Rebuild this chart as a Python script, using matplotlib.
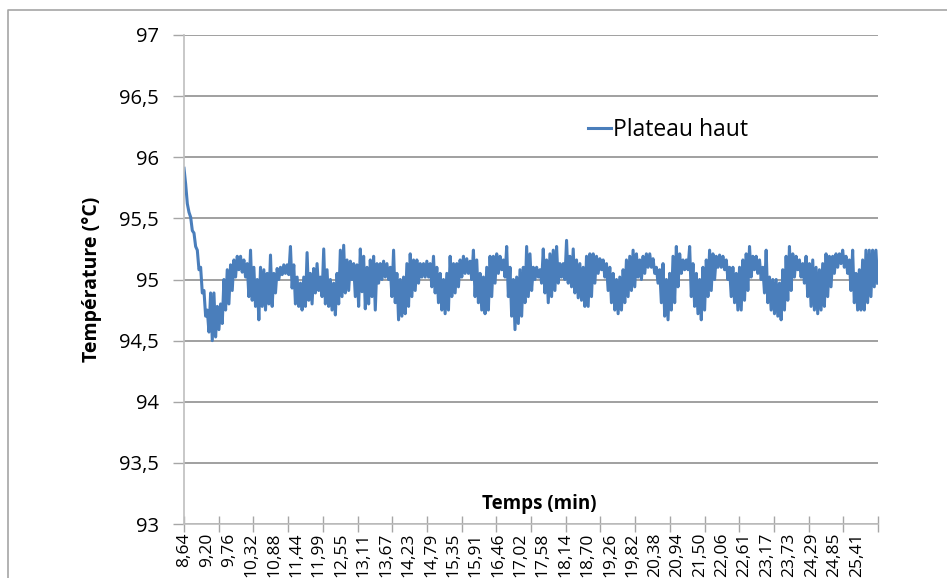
import matplotlib
matplotlib.use("Agg")
import matplotlib.pyplot as plt
from matplotlib.lines import Line2D
import numpy as np

plt.rcParams['font.family'] = ['Open Sans', 'DejaVu Sans']

# upper / lower reading of the probe over each sampling window (°C), 8,64 -> 25,9 min
temp_hi = [
    95.91, 95.62, 95.51, 95.38, 95.24, 95.10, 94.91, 94.75, 94.89, 94.89,
    94.78, 94.80, 95.00, 95.08, 95.12, 95.16, 95.19, 95.19, 95.16, 95.13,
    95.24, 95.10, 95.00, 95.10, 95.08, 95.05, 95.20, 95.05, 95.09, 95.10,
    95.12, 95.12, 95.27, 95.12, 95.02, 94.97, 95.02, 95.22, 95.05, 95.09,
    95.13, 95.02, 95.25, 95.08, 95.00, 94.97, 95.05, 95.24, 95.28, 95.16,
    95.15, 95.13, 95.12, 95.25, 95.19, 95.10, 95.16, 95.19, 95.13, 95.13,
    95.15, 95.13, 95.10, 95.24, 95.05, 95.00, 95.02, 95.13, 95.21, 95.16,
    95.16, 95.13, 95.13, 95.15, 95.13, 95.19, 95.10, 95.05, 95.00, 95.05,
    95.19, 95.13, 95.13, 95.16, 95.19, 95.17, 95.15, 95.24, 95.16, 95.05,
    95.02, 95.10, 95.19, 95.19, 95.21, 95.19, 95.16, 95.27, 95.10, 95.00,
    95.02, 95.08, 95.10, 95.27, 95.21, 95.10, 95.10, 95.08, 95.25, 95.16,
    95.21, 95.24, 95.27, 95.13, 95.13, 95.32, 95.19, 95.25, 95.16, 95.13,
    95.10, 95.19, 95.21, 95.21, 95.19, 95.17, 95.16, 95.13, 95.10, 95.05,
    95.00, 95.02, 95.08, 95.16, 95.19, 95.24, 95.21, 95.16, 95.19, 95.21,
    95.21, 95.17, 95.10, 95.08, 95.13, 95.00, 95.05, 95.19, 95.27, 95.21,
    95.16, 95.16, 95.27, 95.13, 95.05, 95.00, 95.10, 95.16, 95.24, 95.21,
    95.19, 95.20, 95.19, 95.16, 95.10, 95.10, 95.05, 95.10, 95.16, 95.21,
    95.27, 95.19, 95.19, 95.16, 95.10, 95.24, 95.02, 95.00, 95.00, 94.97,
    95.08, 95.19, 95.27, 95.21, 95.19, 95.16, 95.13, 95.19, 95.13, 95.16,
    95.10, 95.08, 95.13, 95.21, 95.19, 95.19, 95.21, 95.21, 95.24, 95.19,
    95.16, 95.24, 95.05, 95.08, 95.16, 95.24, 95.24, 95.24, 95.24,
]
temp_lo = [
    95.78, 95.55, 95.40, 95.27, 95.08, 94.89, 94.70, 94.57, 94.50, 94.53,
    94.59, 94.64, 94.75, 94.80, 94.91, 95.02, 95.08, 95.06, 95.02, 94.86,
    94.83, 94.78, 94.67, 94.78, 94.75, 94.80, 94.78, 94.89, 95.00, 95.04,
    95.05, 95.04, 94.93, 94.80, 94.78, 94.75, 94.78, 94.83, 94.80, 94.89,
    94.91, 94.86, 94.80, 94.78, 94.75, 94.71, 94.80, 94.86, 94.89, 94.91,
    95.00, 94.86, 94.78, 94.90, 94.76, 94.80, 94.86, 94.75, 94.97, 95.00,
    95.02, 95.00, 94.86, 94.81, 94.67, 94.70, 94.72, 94.78, 94.86, 94.91,
    94.97, 95.02, 95.02, 95.02, 94.94, 94.89, 94.81, 94.75, 94.72, 94.75,
    94.86, 94.89, 94.94, 95.02, 95.05, 95.05, 95.00, 94.86, 94.81, 94.75,
    94.72, 94.75, 94.86, 94.97, 95.05, 95.08, 95.02, 94.86, 94.70, 94.59,
    94.64, 94.70, 94.81, 94.86, 94.91, 95.00, 95.02, 94.97, 94.89, 94.81,
    94.86, 94.91, 94.97, 95.02, 95.00, 94.97, 94.94, 94.89, 94.85, 94.83,
    94.78, 94.78, 94.86, 94.97, 95.05, 95.08, 95.02, 94.91, 94.81, 94.75,
    94.72, 94.75, 94.81, 94.86, 94.91, 94.94, 95.02, 95.00, 95.05, 95.10,
    95.10, 95.05, 94.97, 94.81, 94.70, 94.67, 94.75, 94.81, 94.94, 95.05,
    95.08, 95.08, 94.86, 94.78, 94.72, 94.67, 94.75, 94.86, 94.91, 95.00,
    95.10, 95.10, 95.08, 95.00, 94.86, 94.81, 94.75, 94.75, 94.83, 94.91,
    95.02, 95.08, 95.05, 95.00, 94.89, 94.81, 94.75, 94.72, 94.70, 94.67,
    94.75, 94.83, 94.91, 95.02, 95.08, 95.02, 94.97, 94.86, 94.78, 94.75,
    94.72, 94.75, 94.78, 94.86, 94.94, 95.05, 95.10, 95.13, 95.10, 95.05,
    94.91, 94.81, 94.75, 94.75, 94.75, 94.81, 94.86, 94.94, 94.97,
]

t_start, t_end = 8.63, 25.93
x_min, x_max = 8.63, 25.94

y_ticks = [93, 93.5, 94, 94.5, 95, 95.5, 96, 96.5, 97]
x_labels = ["8,64", "9,20", "9,76", "10,32", "10,88", "11,44", "11,99", "12,55",
            "13,11", "13,67", "14,23", "14,79", "15,35", "15,91", "16,46", "17,02",
            "17,58", "18,14", "18,70", "19,26", "19,82", "20,38", "20,94", "21,50",
            "22,06", "22,61", "23,17", "23,73", "24,29", "24,85", "25,41"]

# interleave the two readings so the trace shows the full noise band
temp = np.column_stack((temp_hi, temp_lo)).ravel()
t = np.linspace(t_start, t_end, len(temp))

fig = plt.figure(figsize=(9.47, 5.78), dpi=100)
ax = fig.add_axes([184 / 947, 1 - 524 / 578, 694 / 947, 489 / 578])

# chart frame
fig.add_artist(Line2D([8 / 947, 8 / 947, 1.01], [-0.01, 1 - 10 / 578, 1 - 10 / 578],
                      transform=fig.transFigure, color='#a6a6a6', lw=1.2))

ax.plot(t, temp, color='#4A7EBB', lw=2.2, label='Plateau haut')

ax.set_xlim(x_min, x_max)
ax.set_ylim(93, 97)

ax.set_yticks(y_ticks)
ax.set_yticklabels([f"{v:g}".replace('.', ',') for v in y_ticks])
ax.yaxis.grid(True, color='#868686', lw=1.1)
ax.set_axisbelow(True)

# tick marks split the axis in 20, labels follow the sample times
ax.set_xticks(np.linspace(x_min, x_max, 21))
ax.set_xticklabels([])
ax.set_xticks([float(s.replace(',', '.')) for s in x_labels], x_labels, minor=True)
ax.tick_params(axis='x', which='major', direction='inout', length=11, color='#a6a6a6', width=1)
ax.tick_params(axis='x', which='minor', length=0, pad=6, labelrotation=90, labelsize=12.5)
ax.tick_params(axis='y', direction='out', length=8, color='#a6a6a6', width=1,
               labelsize=14.5, pad=10)

for side in ('top', 'right'):
    ax.spines[side].set_visible(False)
for side in ('left', 'bottom'):
    ax.spines[side].set_color('#bfbfbf')
    ax.spines[side].set_linewidth(1.2)

ax.set_ylabel('Température (°C)', fontsize=14, fontweight='bold', labelpad=12)
ax.text(0.512, 0.04, 'Temps (min)', transform=ax.transAxes, ha='center', va='center',
        fontsize=13.5, fontweight='bold')

ax.legend(loc='center left', bbox_to_anchor=(0.582, 0.806), frameon=False,
          fontsize=16.5, handlelength=1.0, handletextpad=0.1, borderpad=0, borderaxespad=0)

fig.savefig('out.png', dpi=100)
